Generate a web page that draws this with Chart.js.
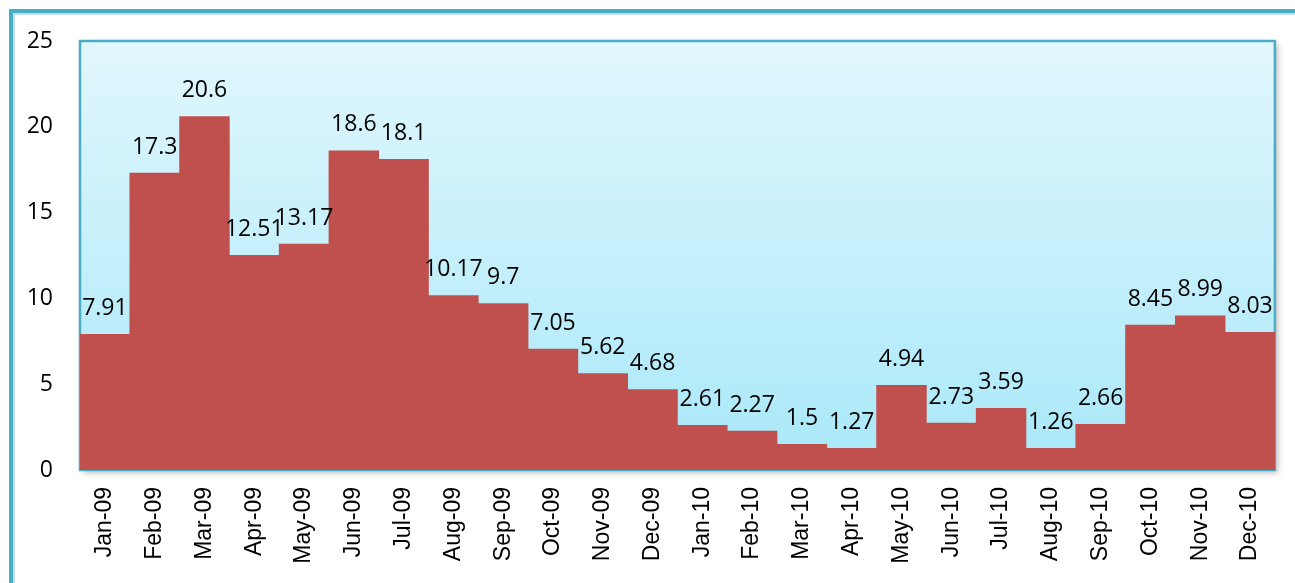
<!DOCTYPE html>
<html>
<head>
<meta charset="utf-8">
<script src="https://cdn.jsdelivr.net/npm/chart.js@4/dist/chart.umd.min.js"></script>
<style>
  html, body { margin: 0; padding: 0; background: #fff; }
  #wrap { width: 1295px; height: 583px; }
</style>
</head>
<body>
<div id="wrap"><canvas id="rateChart" width="1295" height="583"></canvas></div>
<script>
// Months shown on the x axis
const months = ["Jan-09", "Feb-09", "Mar-09", "Apr-09", "May-09", "Jun-09", "Jul-09", "Aug-09",
    "Sep-09", "Oct-09", "Nov-09", "Dec-09", "Jan-10", "Feb-10", "Mar-10", "Apr-10",
    "May-10", "Jun-10", "Jul-10", "Aug-10", "Sep-10", "Oct-10", "Nov-10", "Dec-10"];

// Value for each month
const values = [7.91, 17.3, 20.6, 12.51, 13.17, 18.6, 18.1, 10.17, 9.7, 7.05, 5.62, 4.68,
    2.61, 2.27, 1.5, 1.27, 4.94, 2.73, 3.59, 1.26, 2.66, 8.45, 8.99, 8.03];

// Labels written above each bar (kept as they were typed)
const valueLabels = ["7.91", "17.3", "20.6", "12.51", "13.17", "18.6", "18.1", "10.17", "9.7",
    "7.05", "5.62", "4.68", "2.61", "2.27", "1.5", "1.27", "4.94", "2.73", "3.59", "1.26",
    "2.66", "8.45", "8.99", "8.03"];

const yMin = 0;
const yMax = 25;
const yStep = 5;

// White page with the teal frame round the whole picture
const framePlugin = {
    id: 'frame',
    beforeDraw: (chart) => {
        const {ctx} = chart;
        ctx.save();
        ctx.fillStyle = '#ffffff';
        ctx.fillRect(0, 0, chart.width, chart.height);
        ctx.strokeStyle = 'rgba(75,172,198,0.35)';
        ctx.lineWidth = 2;
        ctx.strokeRect(14, 14, chart.width + 40, chart.height + 40);
        ctx.strokeStyle = '#4BACC6';
        ctx.lineWidth = 4;
        ctx.strokeRect(11, 11, chart.width + 40, chart.height + 40);
        ctx.restore();
    }
};

// Gradient plot area with its border and a soft shadow
const plotAreaPlugin = {
    id: 'plotArea',
    beforeDatasetsDraw: (chart) => {
        const {ctx, chartArea} = chart;
        const {left, top, right, bottom} = chartArea;
        ctx.save();
        ctx.shadowColor = 'rgba(0,0,0,0.25)';
        ctx.shadowBlur = 6;
        ctx.shadowOffsetX = 3;
        ctx.shadowOffsetY = 3;
        const grad = ctx.createLinearGradient(0, top, 0, bottom);
        grad.addColorStop(0, '#E1F7FD');
        grad.addColorStop(1, '#A9E8F9');
        ctx.fillStyle = grad;
        ctx.fillRect(left, top, right - left, bottom - top);
        ctx.restore();
        ctx.save();
        ctx.strokeStyle = '#4BACC6';
        ctx.lineWidth = 2.5;
        ctx.strokeRect(left, top, right - left, bottom - top);
        ctx.restore();
    }
};

// Value labels above the bars
const barLabelPlugin = {
    id: 'barLabels',
    afterDatasetsDraw: (chart) => {
        const {ctx} = chart;
        const meta = chart.getDatasetMeta(0);
        ctx.save();
        ctx.fillStyle = '#000000';
        ctx.font = '23px "Open Sans", sans-serif';
        ctx.textAlign = 'center';
        ctx.textBaseline = 'middle';
        meta.data.forEach((bar, i) => {
            ctx.fillText(valueLabels[i], bar.x, bar.y - 26);
        });
        ctx.restore();
    }
};

const ctx = document.getElementById('rateChart');

new Chart(ctx, {
    type: 'bar',
    data: {
        labels: months,
        datasets: [
            {
                data: values,
                backgroundColor: '#C0504D',
                borderWidth: 0,
                barPercentage: 1.0,
                categoryPercentage: 1.0
            }
        ]
    },
    options: {
        responsive: false,
        animation: false,
        layout: {
            padding: {left: 20, top: 41, right: 19, bottom: 0}
        },
        plugins: {
            legend: {display: false},
            tooltip: {enabled: false}
        },
        scales: {
            x: {
                grid: {display: false, drawTicks: false},
                border: {display: false},
                ticks: {
                    color: '#000000',
                    font: {family: '"Liberation Sans", Arial, sans-serif', size: 23},
                    minRotation: 90,
                    maxRotation: 90,
                    autoSkip: false,
                    padding: 17
                },
                afterFit: (scale) => { scale.height = 583 - 470; }
            },
            y: {
                min: yMin,
                max: yMax,
                grid: {display: false, drawTicks: false},
                border: {display: false},
                ticks: {
                    stepSize: yStep,
                    color: '#000000',
                    font: {family: '"Open Sans", sans-serif', size: 23},
                    padding: 27
                },
                afterFit: (scale) => { scale.width = 80 - 20; }
            }
        }
    },
    plugins: [framePlugin, plotAreaPlugin, barLabelPlugin]
});
</script>
</body>
</html>
